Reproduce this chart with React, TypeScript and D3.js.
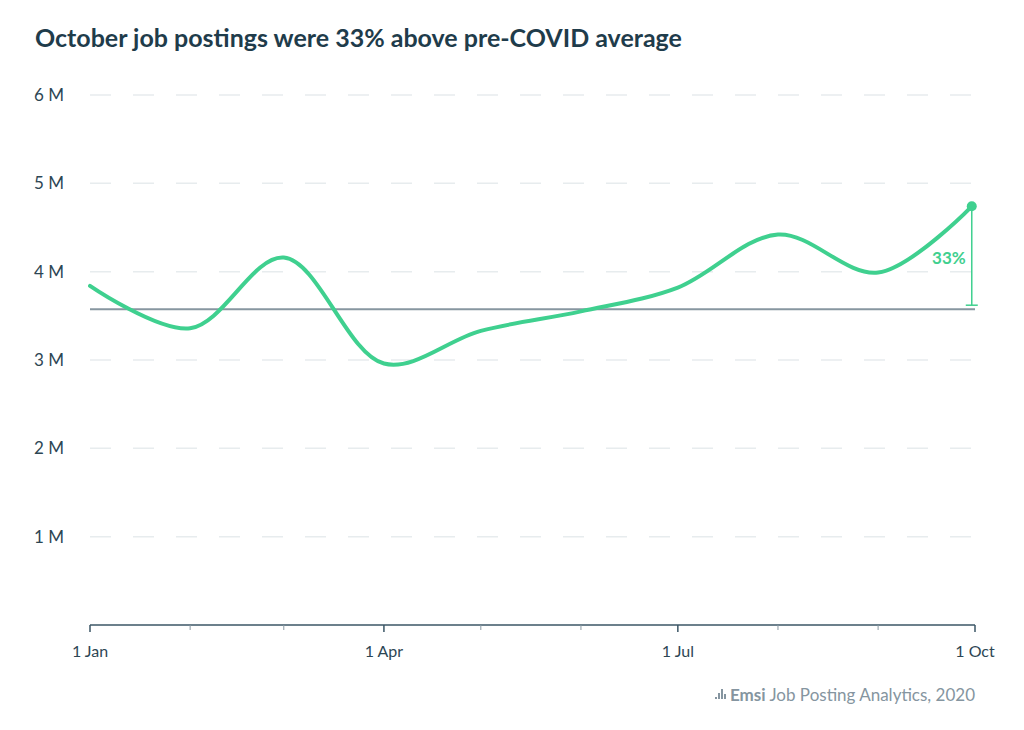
import React, { useEffect, useRef } from 'react';
import * as d3 from 'd3';

// monthly job postings, millions
const dates = ['2020-01-01', '2020-02-01', '2020-03-01', '2020-04-01', '2020-05-01', '2020-06-01', '2020-07-01', '2020-08-01', '2020-09-01', '2020-09-30'];
const postings = [3.84, 3.36, 4.16, 2.96, 3.33, 3.55, 3.82, 4.42, 3.99, 4.74];
const preCovidAvg = 3.575;
const yTicks = [1, 2, 3, 4, 5, 6];
const majorTicks = ['2020-01-01', '2020-04-01', '2020-07-01', '2020-10-01'];
const majorLabels = ['1 Jan', '1 Apr', '1 Jul', '1 Oct'];
const title = 'October job postings were 33% above pre-COVID average';

const GREEN = '#3fd08f';
const DARK = '#1f3c4b';
const FONT = 'Lato, "Open Sans", sans-serif';

export default function App() {
  const ref = useRef<SVGSVGElement>(null);

  useEffect(() => {
    const svg = d3.select(ref.current);
    svg.selectAll('*').remove();

    const width = 1024;
    const height = 730;
    const margin = { left: 90, right: 49, top: 95, bottom: 105 };
    const parse = d3.timeParse('%Y-%m-%d');

    const x = d3
      .scaleTime()
      .domain([parse('2020-01-01')!, parse('2020-10-01')!])
      .range([margin.left, width - margin.right]);

    const y = d3
      .scaleLinear()
      .domain([0, 6])
      .range([height - margin.bottom, margin.top]);

    // title
    svg
      .append('text')
      .attr('x', 35)
      .attr('y', 47)
      .attr('font-family', FONT)
      .attr('font-weight', 700)
      .attr('font-size', 25)
      .attr('fill', DARK)
      .text(title);

    // gridlines + y labels
    yTicks.forEach((t) => {
      svg
        .append('line')
        .attr('x1', margin.left)
        .attr('x2', width - margin.right)
        .attr('y1', y(t))
        .attr('y2', y(t))
        .attr('stroke', '#e7ecee')
        .attr('stroke-width', 1.5)
        .attr('stroke-dasharray', '21,22');
      svg
        .append('text')
        .attr('x', 64)
        .attr('y', y(t) + 6)
        .attr('text-anchor', 'end')
        .attr('font-family', FONT)
        .attr('font-size', 17)
        .attr('fill', '#2d4654')
        .text(`${t} M`);
    });

    // x axis
    const axisY = y(0);
    svg
      .append('line')
      .attr('x1', margin.left)
      .attr('x2', width - margin.right)
      .attr('y1', axisY)
      .attr('y2', axisY)
      .attr('stroke', '#3b5666')
      .attr('stroke-width', 1.5);

    const months = d3.timeMonth.range(parse('2020-01-01')!, parse('2020-10-02')!);
    const majorSet = new Set(majorTicks);
    const fmt = d3.timeFormat('%Y-%m-%d');
    months.forEach((m) => {
      const major = majorSet.has(fmt(m));
      svg
        .append('line')
        .attr('x1', x(m))
        .attr('x2', x(m))
        .attr('y1', axisY)
        .attr('y2', axisY + (major ? 7 : 5))
        .attr('stroke', major ? '#3b5666' : '#8a9aa3')
        .attr('stroke-width', major ? 1.5 : 1);
    });

    majorTicks.forEach((d, i) => {
      svg
        .append('text')
        .attr('x', x(parse(d)!))
        .attr('y', 657)
        .attr('text-anchor', 'middle')
        .attr('font-family', FONT)
        .attr('font-size', 16)
        .attr('fill', '#2d4654')
        .text(majorLabels[i]);
    });

    // pre-COVID average
    svg
      .append('line')
      .attr('x1', margin.left)
      .attr('x2', width - margin.right)
      .attr('y1', y(preCovidAvg))
      .attr('y2', y(preCovidAvg))
      .attr('stroke', '#8796a0')
      .attr('stroke-width', 2);

    const data = dates.map((d, i) => ({ date: parse(d)!, value: postings[i] }));

    svg
      .append('path')
      .datum(data)
      .attr('fill', 'none')
      .attr('stroke', GREEN)
      .attr('stroke-width', 4)
      .attr('stroke-linecap', 'round')
      .attr(
        'd',
        d3
          .line<{ date: Date; value: number }>()
          .curve(d3.curveCatmullRom.alpha(0.5))
          .x((d) => x(d.date))
          .y((d) => y(d.value))
      );

    // annotation
    const last = data[data.length - 1];
    const lx = x(last.date);
    svg
      .append('line')
      .attr('x1', lx)
      .attr('x2', lx)
      .attr('y1', y(last.value))
      .attr('y2', y(preCovidAvg) - 4)
      .attr('stroke', GREEN)
      .attr('stroke-width', 1.5);
    svg
      .append('line')
      .attr('x1', lx - 6)
      .attr('x2', lx + 6)
      .attr('y1', y(preCovidAvg) - 4)
      .attr('y2', y(preCovidAvg) - 4)
      .attr('stroke', GREEN)
      .attr('stroke-width', 1.5);
    svg
      .append('circle')
      .attr('cx', lx)
      .attr('cy', y(last.value))
      .attr('r', 5)
      .attr('fill', GREEN);
    const pct = Math.round((last.value / preCovidAvg - 1) * 100);
    svg
      .append('text')
      .attr('x', lx - 6)
      .attr('y', (y(last.value) + y(preCovidAvg)) / 2 + 6)
      .attr('text-anchor', 'end')
      .attr('font-family', FONT)
      .attr('font-weight', 700)
      .attr('font-size', 17)
      .attr('fill', GREEN)
      .text(`${pct}%`);

    // source
    const src = svg
      .append('text')
      .attr('x', width - margin.right)
      .attr('y', 701)
      .attr('text-anchor', 'end')
      .attr('font-family', FONT)
      .attr('font-size', 17)
      .attr('fill', '#8595a0');
    src.append('tspan').attr('font-weight', 700).text('Emsi');
    src.append('tspan').text(' Job Posting Analytics, 2020');

    const bbox = (src.node() as SVGTextElement).getBBox();
    const ix = bbox.x - 15;
    const bars = [
      [0, 2],
      [3, 6],
      [6, 10],
      [9, 5],
    ];
    bars.forEach(([dx, h]) => {
      svg
        .append('rect')
        .attr('x', ix + dx)
        .attr('y', 699 - h)
        .attr('width', 2)
        .attr('height', h)
        .attr('fill', '#8595a0');
    });
  }, []);

  return (
    <div style={{ position: 'absolute', left: 0, top: 0, background: '#fff' }}>
      <svg ref={ref} width={1024} height={730} />
    </div>
  );
}
